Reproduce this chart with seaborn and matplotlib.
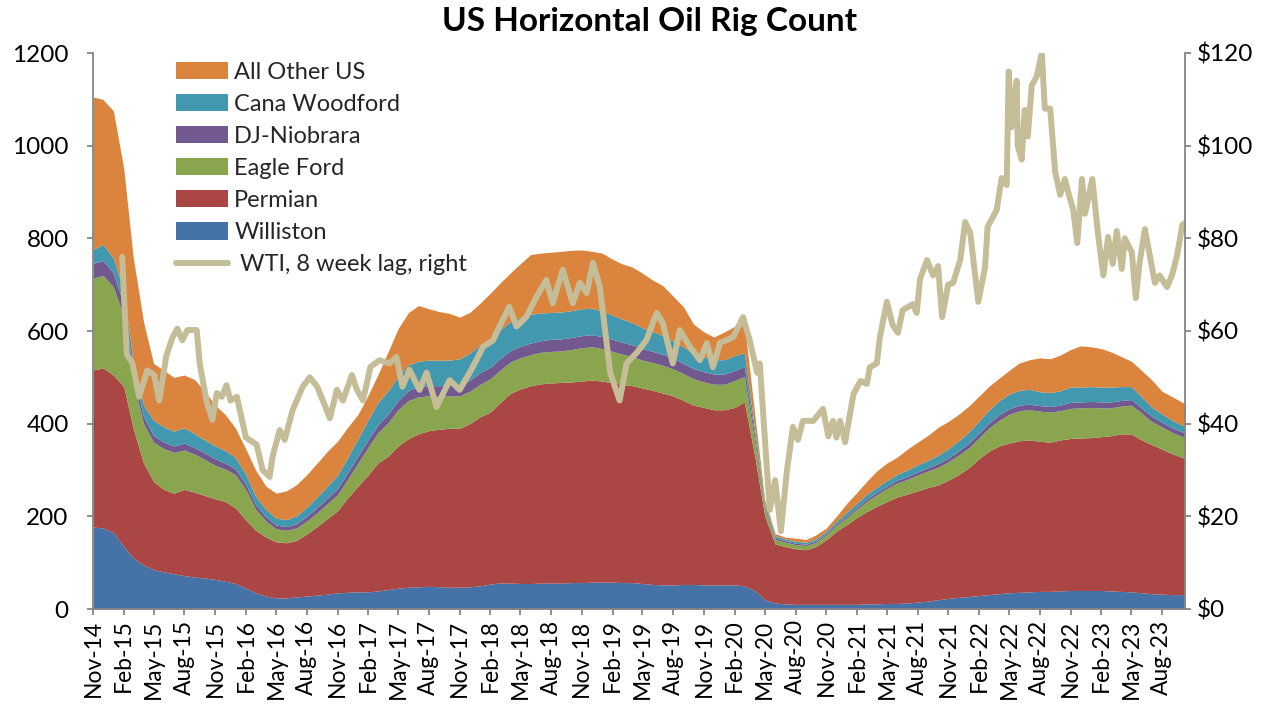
import matplotlib
matplotlib.use("Agg")
import matplotlib.pyplot as plt
import matplotlib.dates as mdates
import matplotlib.ticker as mticker
from matplotlib.patches import Patch
from matplotlib.lines import Line2D
import seaborn as sns
import pandas as pd

# ---------------- data (monthly, Nov-14 .. Oct-23) ----------------
rig_dates = pd.date_range("2014-11-01", periods=107, freq="MS").append(
    pd.DatetimeIndex(["2023-10-09"]))

williston = [177, 175, 165, 135, 110, 95, 85, 80, 76, 72, 69, 67, 64, 60, 55, 45, 35, 28, 24, 24,
             26, 28, 30, 32, 35, 36, 37, 37, 39, 42, 45, 47, 48, 49, 48, 47, 47, 48, 50, 54,
             56, 56, 55, 55, 56, 56, 56, 57, 57, 58, 58, 58, 57, 57, 55, 53, 52, 52, 53, 53,
             52, 52, 52, 52, 50, 40, 20, 13, 11, 10, 10, 10, 10, 10, 10, 10, 11, 11, 12, 12,
             13, 15, 17, 20, 23, 25, 27, 29, 31, 33, 35, 36, 37, 38, 38, 39, 40, 40, 40, 40,
             39, 38, 37, 35, 33, 32, 31, 31]
permian = [339, 345, 340, 345, 280, 220, 190, 178, 174, 186, 183, 178, 174, 172, 163, 147, 135, 127, 121, 119,
           122, 134, 148, 163, 177, 204, 228, 253, 276, 288, 307, 321, 330, 336, 340, 343, 343, 352, 365, 371,
           389, 409, 420, 427, 430, 432, 433, 433, 435, 436, 434, 430, 428, 425, 422, 419, 414, 408, 397, 387,
           383, 378, 378, 383, 397, 290, 180, 127, 124, 120, 118, 125, 140, 158, 172, 188, 199, 211, 220, 230,
           235, 240, 245, 248, 255, 265, 278, 296, 309, 319, 323, 327, 328, 324, 322, 326, 328, 329, 330, 332,
           335, 340, 341, 330, 322, 313, 304, 294]
eagle_ford = [198, 200, 190, 150, 100, 85, 85, 88, 88, 85, 82, 78, 72, 70, 72, 65, 45, 35, 28, 27,
              27, 28, 30, 32, 35, 40, 50, 60, 65, 72, 78, 82, 80, 75, 72, 70, 70, 70, 70, 72,
              70, 68, 67, 67, 68, 68, 68, 70, 72, 72, 70, 68, 65, 63, 60, 60, 60, 58, 58, 57,
              55, 55, 55, 58, 55, 30, 15, 10, 9, 9, 9, 9, 10, 12, 15, 18, 22, 25, 28, 30,
              32, 34, 36, 38, 40, 42, 43, 45, 50, 55, 62, 65, 65, 65, 65, 63, 65, 65, 65, 62,
              60, 60, 62, 58, 50, 48, 46, 45]
dj_niobrara = [32, 32, 30, 27, 20, 15, 14, 14, 14, 15, 14, 14, 14, 13, 12, 11, 10, 9, 8, 8,
               9, 10, 11, 12, 13, 14, 15, 16, 17, 19, 20, 22, 22, 22, 22, 22, 23, 24, 25, 25,
               25, 25, 25, 25, 25, 26, 26, 26, 26, 26, 26, 26, 26, 25, 25, 24, 24, 23, 22, 22,
               22, 22, 22, 22, 21, 12, 5, 4, 3, 3, 3, 3, 3, 3, 4, 4, 5, 5, 5, 6,
               6, 7, 7, 8, 8, 9, 10, 10, 11, 12, 12, 12, 12, 12, 12, 12, 13, 13, 13, 13,
               13, 12, 12, 11, 11, 10, 10, 10]
cana_woodford = [30, 35, 32, 28, 25, 25, 33, 33, 32, 33, 30, 28, 28, 27, 25, 22, 18, 16, 15, 15,
                 17, 20, 23, 26, 29, 33, 38, 43, 48, 50, 52, 55, 55, 55, 55, 55, 57, 58, 60, 62,
                 62, 62, 62, 62, 60, 58, 58, 58, 58, 57, 55, 52, 50, 48, 45, 43, 40, 37, 35, 33,
                 32, 31, 31, 32, 30, 15, 6, 4, 4, 4, 4, 4, 5, 6, 8, 9, 10, 11, 12, 13,
                 14, 15, 16, 18, 20, 22, 24, 26, 28, 30, 32, 32, 32, 30, 30, 31, 33, 32, 32, 32,
                 32, 30, 28, 24, 20, 18, 16, 14]
all_other = [329, 313, 318, 265, 225, 180, 123, 122, 116, 114, 117, 105, 88, 78, 63, 55, 57, 50, 54, 62,
             67, 70, 73, 75, 73, 65, 52, 53, 60, 84, 103, 113, 120, 111, 105, 101, 90, 88, 90, 98,
             101, 105, 116, 129, 129, 130, 131, 130, 127, 123, 125, 121, 119, 120, 118, 111, 108, 97, 87, 63,
             54, 49, 60, 63, 64, 33, 9, 5, 4, 7, 6, 9, 7, 11, 19, 23, 28, 35, 38, 37,
             45, 49, 54, 60, 59, 57, 56, 54, 51, 49, 51, 59, 64, 73, 73, 77, 81, 89, 86, 83,
             76, 65, 55, 57, 59, 49, 51, 49]

wti_dates = ["2015-01-27", "2015-02-10", "2015-02-27", "2015-03-19", "2015-04-12", "2015-05-03",
             "2015-05-18", "2015-06-08", "2015-06-26", "2015-07-11", "2015-07-26", "2015-08-10",
             "2015-09-07", "2015-09-16", "2015-10-06", "2015-10-24", "2015-11-06", "2015-11-21",
             "2015-12-05", "2015-12-17", "2016-01-05", "2016-02-01", "2016-03-04", "2016-03-22",
             "2016-04-12", "2016-04-21", "2016-05-12", "2016-05-27", "2016-06-20", "2016-07-20",
             "2016-08-10", "2016-09-01", "2016-09-18", "2016-10-09", "2016-10-30", "2016-11-17",
             "2016-12-14", "2016-12-29", "2017-01-16", "2017-02-07", "2017-03-06", "2017-04-05",
             "2017-04-26", "2017-05-14", "2017-06-04", "2017-07-04", "2017-07-25", "2017-08-24",
             "2017-10-02", "2017-11-01", "2017-12-10", "2018-01-10", "2018-02-09", "2018-02-28",
             "2018-03-29", "2018-04-20", "2018-05-19", "2018-06-18", "2018-07-18", "2018-08-06",
             "2018-09-05", "2018-10-05", "2018-10-26", "2018-11-16", "2018-12-04", "2018-12-25",
             "2019-01-25", "2019-02-22", "2019-03-15", "2019-04-14", "2019-05-13", "2019-06-13",
             "2019-07-01", "2019-07-31", "2019-08-21", "2019-09-20", "2019-10-20", "2019-11-10",
             "2019-11-28", "2019-12-19", "2020-01-28", "2020-02-26", "2020-03-17", "2020-04-08",
             "2020-04-16", "2020-05-07", "2020-05-16", "2020-06-01", "2020-06-18", "2020-07-06",
             "2020-07-24", "2020-08-08", "2020-08-23", "2020-09-23", "2020-10-22", "2020-11-07",
             "2020-11-21", "2020-12-01", "2020-12-12", "2020-12-27", "2021-01-21", "2021-02-11",
             "2021-03-02", "2021-03-11", "2021-04-01", "2021-04-10", "2021-05-01", "2021-05-18",
             "2021-06-03", "2021-06-17", "2021-07-17", "2021-07-29", "2021-08-08", "2021-08-29",
             "2021-09-16", "2021-10-01", "2021-10-13", "2021-10-31", "2021-11-15", "2021-12-06",
             "2021-12-21", "2022-01-05", "2022-01-29", "2022-02-18", "2022-02-26", "2022-03-25",
             "2022-04-09", "2022-04-24", "2022-04-30", "2022-05-09", "2022-05-24", "2022-05-27",
             "2022-06-08", "2022-06-17", "2022-06-26", "2022-07-08", "2022-07-23", "2022-08-07",
             "2022-08-16", "2022-09-01", "2022-09-16", "2022-10-01", "2022-10-15", "2022-10-24",
             "2022-11-09", "2022-11-21", "2022-12-05", "2022-12-14", "2023-01-05", "2023-01-23",
             "2023-02-07", "2023-02-21", "2023-03-07", "2023-03-19", "2023-04-03", "2023-04-12",
             "2023-05-03", "2023-05-15", "2023-05-26", "2023-06-11", "2023-06-26", "2023-07-11",
             "2023-07-25", "2023-08-16", "2023-08-31", "2023-09-15", "2023-10-01", "2023-10-09"]
wti_values = [76, 55, 53, 45.8, 51.5, 50.5,
              45, 54.6, 58.5, 60.5, 58, 60.2,
              60.2, 53, 45, 40.8, 46.6, 45.8,
              48.3, 45, 45.8, 37, 35.5, 30,
              28.5, 33, 38.6, 36.5, 43, 48,
              50, 48, 45, 41.2, 47.3, 45,
              50.5, 47.3, 45, 52.2, 53.7, 53,
              54.4, 48, 51.6, 47.3, 51, 43.6,
              49.4, 47.3, 52.2, 56.6, 58, 61,
              65.2, 61, 63, 67.3, 71, 66,
              73.2, 66, 70.4, 68.2, 74.7, 69.5,
              51, 45, 53, 55.3, 58, 63.9,
              61.7, 53, 60.2, 56.6, 53.7, 57.4,
              52.2, 57.4, 58.7, 63, 58, 51,
              53, 30.6, 21.4, 27.8, 16.8, 29.8,
              39.3, 36.5, 40.6, 40.6, 43.2, 37.3,
              40.6, 37, 40.6, 36, 46.4, 49.2,
              48.6, 52.2, 53, 58.7, 66.3, 61.3,
              59.6, 64.5, 65.8, 63.9, 71.2, 75.3,
              72, 74, 63, 70, 70.4, 75.3,
              83.5, 81.2, 66.3, 73.6, 82.5, 86.1,
              93, 91.5, 116, 104, 114, 100,
              97, 107.7, 102, 113, 115, 120,
              108, 108, 94.3, 89.4, 92.8, 90.2,
              86.1, 79, 92.8, 85.3, 92.8, 80.3,
              72, 80.3, 74.5, 81.6, 73.4, 80,
              77, 67.1, 74.5, 82, 76.2, 70.4,
              72, 69.5, 72, 76.2, 82.9, 83.3]

series_labels = ["Williston", "Permian", "Eagle Ford", "DJ-Niobrara", "Cana Woodford", "All Other US"]
series_colors = ["#4572A7", "#AA4643", "#89A54E", "#71588F", "#4198AF", "#DB843D"]
wti_label = " WTI, 8 week lag, right"
wti_color = "#C4BD97"
left_ticks = [0, 200, 400, 600, 800, 1000, 1200]
right_ticks = [0, 20, 40, 60, 80, 100, 120]
title = "US Horizontal Oil Rig Count"

# ---------------- drawing ----------------
sns.set_theme(style="white")
plt.rcParams["font.family"] = ["Lato", "DejaVu Sans"]

W, H = 1269, 709
fig = plt.figure(figsize=(W / 100, H / 100), dpi=100)
ax = fig.add_axes([93 / W, (H - 609) / H, (1185 - 93) / W, (609 - 53) / H])

ax.stackplot(rig_dates, williston, permian, eagle_ford, dj_niobrara, cana_woodford, all_other,
             colors=series_colors, linewidth=0, antialiased=True)
ax.set_ylim(0, 1200)
ax.set_xlim(rig_dates[0], rig_dates[-1])
ax.set_yticks(left_ticks)

ax2 = ax.twinx()
wti_df = pd.DataFrame({"date": pd.to_datetime(wti_dates), "wti": wti_values})
sns.lineplot(data=wti_df, x="date", y="wti", ax=ax2, color=wti_color, linewidth=4.3,
             legend=False, solid_joinstyle="round")
ax2.set_ylim(0, 120)
ax2.set_yticks(right_ticks)
ax2.yaxis.set_major_formatter(mticker.FuncFormatter(lambda v, p: f"${v:.0f}"))
ax2.set_xlim(rig_dates[0], rig_dates[-1])

ax.xaxis.set_major_locator(mdates.MonthLocator(bymonth=[2, 5, 8, 11]))
ax.xaxis.set_major_formatter(mdates.DateFormatter("%b-%y"))

grey = "#868686"
for a in (ax, ax2):
    a.set_xlabel("")
    a.set_ylabel("")
    a.grid(False)
    for side, sp in a.spines.items():
        sp.set_color(grey)
        sp.set_linewidth(1.3)
    a.spines["top"].set_visible(False)
ax.spines["right"].set_visible(False)
ax2.spines["left"].set_visible(False)
ax2.spines["bottom"].set_visible(False)

ax.tick_params(axis="x", which="major", direction="out", length=4.5, width=1.3, color=grey,
               labelsize=16.5, pad=3, rotation=90, bottom=True)
ax.tick_params(axis="y", which="major", direction="out", length=4.5, width=1.3, color=grey,
               labelsize=17.5, pad=13, left=True)
ax2.tick_params(axis="y", which="major", direction="out", length=4.5, width=1.3, color=grey,
                labelsize=17.5, pad=4, right=True)
ax2.tick_params(axis="x", bottom=False, labelbottom=False)
for lbl in ax.get_xticklabels() + ax.get_yticklabels() + ax2.get_yticklabels():
    lbl.set_color("black")

fig.text(650 / W, 1 - 22 / H, title, ha="center", va="center", fontsize=24,
         fontweight="bold", color="black")

handles = [Patch(facecolor=c, edgecolor="none", label=l)
           for l, c in zip(series_labels[::-1], series_colors[::-1])]
handles.append(Line2D([0], [0], color=wti_color, linewidth=4.3, label=wti_label))
leg = ax2.legend(handles=handles, loc="upper left", bbox_to_anchor=(171 / W, 1 - 57 / H),
                 bbox_transform=fig.transFigure, frameon=False, fontsize=17,
                 handlelength=2.2, handleheight=0.74, handletextpad=0.28,
                 labelspacing=0.47, borderpad=0.2, borderaxespad=0)

fig.savefig("out.png", dpi=100)
